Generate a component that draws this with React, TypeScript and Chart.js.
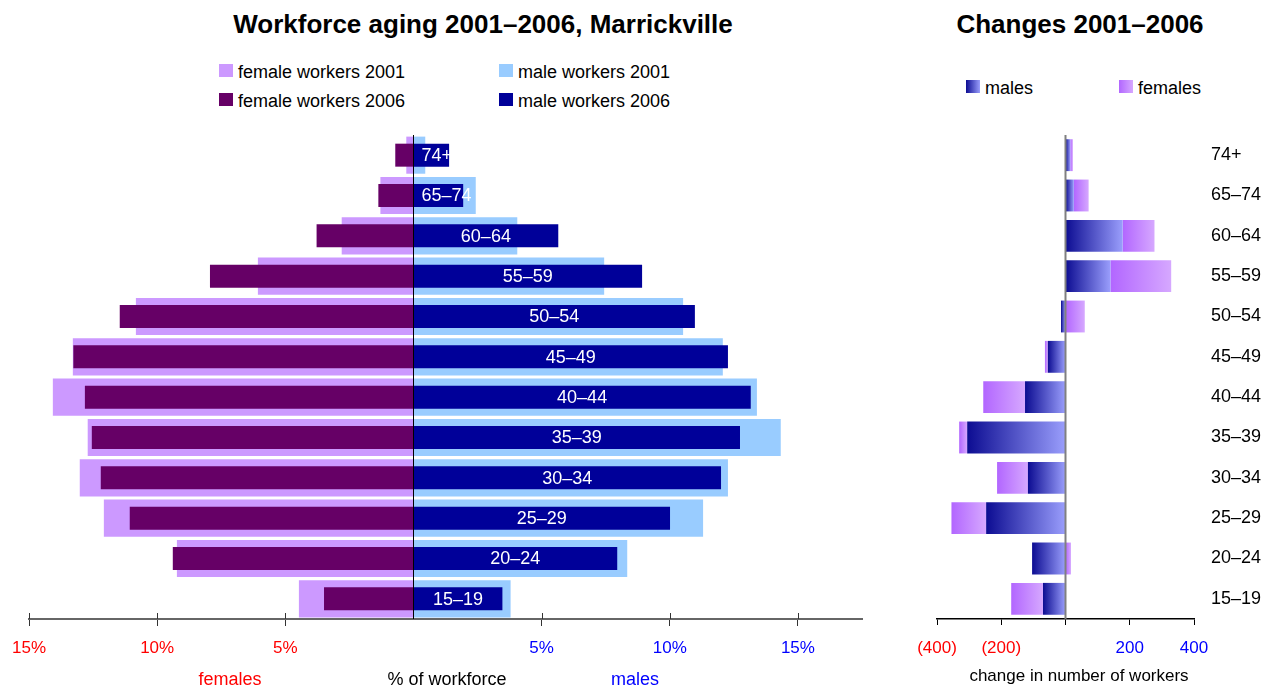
import React, { useEffect, useRef } from 'react';
import { Chart, registerables } from 'chart.js';

Chart.register(...registerables);

const FONT = "'Liberation Sans', Arial, Helvetica, sans-serif";
Chart.defaults.font.family = FONT;

// Age groups, top to bottom
const ageGroups = ['74+', '65–74', '60–64', '55–59', '50–54', '45–49', '40–44', '35–39', '30–34', '25–29', '20–24', '15–19'];

// % of workforce
const female2001 = [0.28, 1.29, 2.8, 6.07, 10.83, 13.29, 14.07, 12.71, 13.02, 12.08, 9.23, 4.47];
const female2006 = [0.71, 1.37, 3.78, 7.94, 11.46, 13.27, 12.82, 12.55, 12.2, 11.07, 9.39, 3.49];
const male2001 = [0.46, 2.43, 4.05, 7.44, 10.52, 12.07, 13.4, 14.33, 12.27, 11.3, 8.34, 3.79];
const male2006 = [1.39, 1.94, 5.65, 8.92, 10.98, 12.27, 13.16, 12.74, 12.0, 10.01, 7.95, 3.47];

// change in number of workers 2001–2006
const maleChange = [15, 26, 178, 140, -14, -55, -126, -306, -117, -247, -104, -70];
const femaleChange = [8, 46, 99, 189, 60, -9, -130, -25, -96, -108, 17, -99];

const pctTicks = [-15, -10, -5, 5, 10, 15];
const changeTicks = [-400, -200, 0, 200, 400];

const maleStops = ['#0c0c92', '#9a9efc'];
const femaleStops = ['#b266ff', '#d6a8ff'];

function changeGradient(c: any, stops: string[]) {
  const chart = c.chart;
  const xs = chart.scales && chart.scales.x;
  if (c.type !== 'data' || !xs) return stops[0];
  const i = c.dataIndex;
  const m = maleChange[i];
  const f = femaleChange[i];
  let a = 0;
  let b = 0;
  if (c.datasetIndex === 0) {
    a = 0;
    b = m;
  } else {
    const base = (f < 0) === (m < 0) ? m : 0;
    a = base;
    b = base + f;
  }
  const p0 = xs.getPixelForValue(Math.min(a, b));
  const p1 = xs.getPixelForValue(Math.max(a, b));
  if (!isFinite(p0) || !isFinite(p1) || p1 - p0 < 0.5) return stops[0];
  const g = chart.ctx.createLinearGradient(p0, 0, p1, 0);
  g.addColorStop(0, stops[0]);
  g.addColorStop(1, stops[1]);
  return g;
}

const pyramidOverlay = {
  id: 'pyramidOverlay',
  afterDatasetsDraw(chart: any) {
    const { ctx, chartArea, scales } = chart;
    const x = scales.x;
    const y = scales.y;
    const x0 = x.getPixelForValue(0);
    ctx.save();
    ctx.strokeStyle = '#333';
    ctx.lineWidth = 1;
    pctTicks.forEach((v) => {
      const px = Math.round(x.getPixelForValue(v)) + 0.5;
      ctx.beginPath();
      ctx.moveTo(px, chartArea.bottom - 6);
      ctx.lineTo(px, chartArea.bottom);
      ctx.stroke();
    });
    ctx.strokeStyle = '#000';
    ctx.beginPath();
    ctx.moveTo(Math.round(x0) + 0.5, chartArea.top);
    ctx.lineTo(Math.round(x0) + 0.5, chartArea.bottom);
    ctx.stroke();
    ctx.font = `18px ${FONT}`;
    ctx.fillStyle = '#ffffff';
    ctx.textBaseline = 'middle';
    ctx.textAlign = 'center';
    ageGroups.forEach((lab, i) => {
      const w = ctx.measureText(lab).width;
      const x1 = x.getPixelForValue(male2006[i]);
      const cx = Math.max((x0 + x1) / 2, x0 + 8 + w / 2);
      ctx.fillText(lab, cx, y.getPixelForValue(i) + 1);
    });
    ctx.restore();
  },
};

const changeOverlay = {
  id: 'changeOverlay',
  afterDatasetsDraw(chart: any) {
    const { ctx, chartArea, scales } = chart;
    const px = scales.x.getPixelForValue(0);
    ctx.save();
    ctx.strokeStyle = '#808080';
    ctx.lineWidth = 2;
    ctx.beginPath();
    ctx.moveTo(px, chartArea.top);
    ctx.lineTo(px, chartArea.bottom);
    ctx.stroke();
    ctx.restore();
  },
};

function PyramidChart() {
  const ref = useRef<HTMLCanvasElement>(null);
  useEffect(() => {
    const chart = new Chart(ref.current as HTMLCanvasElement, {
      type: 'bar',
      data: {
        labels: ageGroups,
        datasets: [
          { label: 'female workers 2006', data: female2006.map((v) => -v), backgroundColor: '#660066', barPercentage: 0.57, categoryPercentage: 1, grouped: false, order: 0 } as any,
          { label: 'male workers 2006', data: male2006, backgroundColor: '#000099', barPercentage: 0.57, categoryPercentage: 1, grouped: false, order: 0 } as any,
          { label: 'female workers 2001', data: female2001.map((v) => -v), backgroundColor: '#cc99ff', barPercentage: 0.92, categoryPercentage: 1, grouped: false, order: 1 } as any,
          { label: 'male workers 2001', data: male2001, backgroundColor: '#99ccff', barPercentage: 0.92, categoryPercentage: 1, grouped: false, order: 1 } as any,
        ],
      },
      options: {
        indexAxis: 'y',
        animation: false,
        responsive: false,
        maintainAspectRatio: false,
        layout: { autoPadding: false, padding: { top: 15, left: 27, right: 18, bottom: 0 } },
        plugins: { legend: { display: false }, tooltip: { enabled: false }, title: { display: false } },
        scales: {
          x: {
            type: 'linear',
            min: -15,
            max: 17.5,
            afterBuildTicks: (s: any) => {
              s.ticks = pctTicks.map((v) => ({ value: v }));
            },
            afterFit: (s: any) => {
              s.height = 70;
            },
            grid: { drawOnChartArea: false, drawTicks: true, tickLength: 7, tickColor: '#333', color: '#333' },
            border: { display: true, color: '#666', width: 2 },
            ticks: {
              padding: 12,
              font: { size: 17 },
              autoSkip: false,
              maxRotation: 0,
              color: (c: any) => (c.tick && c.tick.value < 0 ? '#ff0000' : '#0000ff'),
              callback: (v: any) => Math.abs(Number(v)) + '%',
            },
          },
          y: { type: 'category', display: false, offset: true },
        },
      } as any,
      plugins: [pyramidOverlay],
    });
    return () => chart.destroy();
  }, []);
  return <canvas ref={ref} width={880} height={569} style={{ position: 'absolute', left: 0, top: 120, width: 880, height: 569, display: 'block' }} />;
}

function ChangeChart() {
  const ref = useRef<HTMLCanvasElement>(null);
  useEffect(() => {
    const chart = new Chart(ref.current as HTMLCanvasElement, {
      type: 'bar',
      data: {
        labels: ageGroups,
        datasets: [
          { label: 'males', data: maleChange, backgroundColor: (c: any) => changeGradient(c, maleStops), barPercentage: 0.79, categoryPercentage: 1 } as any,
          { label: 'females', data: femaleChange, backgroundColor: (c: any) => changeGradient(c, femaleStops), barPercentage: 0.79, categoryPercentage: 1 } as any,
        ],
      },
      options: {
        indexAxis: 'y',
        animation: false,
        responsive: false,
        maintainAspectRatio: false,
        layout: { autoPadding: false, padding: { top: 15, left: 37, right: 0, bottom: 0 } },
        plugins: { legend: { display: false }, tooltip: { enabled: false }, title: { display: false } },
        scales: {
          x: {
            type: 'linear',
            stacked: true,
            min: -400,
            max: 400,
            afterBuildTicks: (s: any) => {
              s.ticks = changeTicks.map((v) => ({ value: v }));
            },
            afterFit: (s: any) => {
              s.height = 70;
            },
            grid: { drawOnChartArea: false, drawTicks: true, tickLength: 6, tickColor: '#000', color: '#000' },
            border: { display: true, color: '#000', width: 1.5 },
            ticks: {
              padding: 13,
              font: { size: 17 },
              autoSkip: false,
              maxRotation: 0,
              color: (c: any) => (c.tick && c.tick.value < 0 ? '#ff0000' : '#0000ff'),
              callback: (v: any) => {
                const n = Number(v);
                return n < 0 ? `(${-n})` : n > 0 ? String(n) : '';
              },
            },
          },
          y: {
            type: 'category',
            stacked: true,
            position: 'right',
            offset: true,
            afterFit: (s: any) => {
              s.width = 80;
              s.paddingTop = 0;
              s.paddingBottom = 0;
            },
            grid: { display: false, drawTicks: false },
            border: { display: false },
            ticks: { padding: 17, color: '#000', font: { size: 18 }, autoSkip: false },
          },
        },
      } as any,
      plugins: [changeOverlay],
    });
    return () => chart.destroy();
  }, []);
  return <canvas ref={ref} width={374} height={569} style={{ position: 'absolute', left: 900, top: 120, width: 374, height: 569, display: 'block' }} />;
}

const base: React.CSSProperties = { position: 'absolute', whiteSpace: 'nowrap', lineHeight: 1 };

function Centered({ x, top, size, color = '#000', bold = false, children }: any) {
  return (
    <div style={{ ...base, left: x, top, fontSize: size, color, fontWeight: bold ? 'bold' : 'normal', transform: 'translateX(-50%)' }}>{children}</div>
  );
}

function LegendItem({ x, top, swatch, label }: any) {
  return (
    <>
      <div style={{ position: 'absolute', left: x, top: top + 1, width: 14, height: 13, background: swatch }} />
      <div style={{ ...base, left: x + 19, top, fontSize: 18, color: '#000' }}>{label}</div>
    </>
  );
}

export default function App() {
  return (
    <div style={{ position: 'fixed', left: 0, top: 0, width: 1274, height: 689, background: '#fff', fontFamily: FONT, overflow: 'hidden' }}>
      <PyramidChart />
      <ChangeChart />
      <Centered x={483} top={11} size={26} bold>Workforce aging 2001–2006, Marrickville</Centered>
      <Centered x={1080} top={11} size={26} bold>Changes 2001–2006</Centered>
      <LegendItem x={219} top={63} swatch="#cc99ff" label="female workers 2001" />
      <LegendItem x={219} top={92} swatch="#660066" label="female workers 2006" />
      <LegendItem x={499} top={63} swatch="#99ccff" label="male workers 2001" />
      <LegendItem x={499} top={92} swatch="#000099" label="male workers 2006" />
      <LegendItem x={966} top={79} swatch={`linear-gradient(to right, ${maleStops[0]}, ${maleStops[1]})`} label="males" />
      <LegendItem x={1119} top={79} swatch={`linear-gradient(to right, ${femaleStops[0]}, ${femaleStops[1]})`} label="females" />
      <Centered x={230} top={670} size={18} color="#ff0000">females</Centered>
      <Centered x={447} top={670} size={18}>% of workforce</Centered>
      <Centered x={635} top={670} size={18} color="#0000ff">males</Centered>
      <Centered x={1079} top={667} size={17}>change in number of workers</Centered>
    </div>
  );
}
